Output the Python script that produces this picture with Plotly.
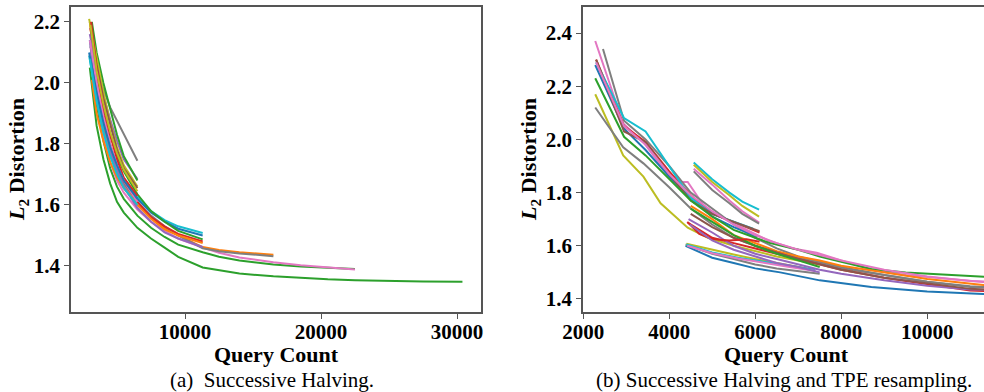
import plotly.graph_objects as go

# ---------------- colours (matplotlib tab10) ----------------
C = {"blue": "#1f77b4", "orange": "#ff7f0e", "green": "#2ca02c", "red": "#d62728",
     "purple": "#9467bd", "brown": "#8c564b", "pink": "#e377c2", "grey": "#7f7f7f",
     "olive": "#bcbd22", "cyan": "#17becf"}

# ---------------- (a) Successive Halving ----------------
grid_a = [3000, 3500, 4000, 4500, 5000, 5500, 6500, 7500, 8500, 9500, 11300,
          12500, 14000, 16500, 18500, 20500, 22500, 25000, 27500, 30400]

sh_colors = ["green", "green", "pink", "orange", "grey", "cyan", "blue", "green", "red",
             "orange", "purple", "grey", "purple", "green", "olive", "brown", "red",
             "pink", "blue", "cyan", "olive"]
sh_start = [3000, 3100, 3050, 3150, 3100, 2950, 3000, 3100, 3050, 3000, 3100,
            3050, 3000, 3150, 2950, 3050, 3100, 3000, 2950, 3000, 3050]
sh_values = [
    [2.05, 1.86, 1.75, 1.67, 1.61, 1.575, 1.525, 1.49, 1.46, 1.43, 1.395, 1.385, 1.375, 1.366, 1.36, 1.356, 1.353, 1.35, 1.349, 1.348],
    [2.10, 1.93, 1.81, 1.72, 1.66, 1.62, 1.565, 1.525, 1.495, 1.47, 1.445, 1.43, 1.418, 1.405, 1.398, 1.393, 1.39],
    [2.12, 1.95, 1.83, 1.74, 1.68, 1.64, 1.585, 1.545, 1.515, 1.49, 1.46, 1.443, 1.428, 1.412, 1.402, 1.394, 1.388],
    [2.01, 1.90, 1.81, 1.74, 1.69, 1.655, 1.60, 1.56, 1.525, 1.50, 1.462, 1.452, 1.445, 1.437],
    [2.15, 1.98, 1.85, 1.77, 1.71, 1.67, 1.61, 1.565, 1.53, 1.50, 1.458, 1.448, 1.441, 1.432],
    [2.09, 1.95, 1.84, 1.77, 1.72, 1.68, 1.625, 1.58, 1.55, 1.53, 1.508],
    [2.14, 1.98, 1.87, 1.79, 1.73, 1.685, 1.62, 1.575, 1.545, 1.522, 1.50],
    [2.19, 2.03, 1.92, 1.83, 1.76, 1.71, 1.635, 1.58, 1.545, 1.515, 1.487],
    [2.18, 2.02, 1.90, 1.80, 1.73, 1.68, 1.61, 1.56, 1.53, 1.505, 1.48],
    [2.20, 2.00, 1.87, 1.77, 1.70, 1.66, 1.60, 1.555, 1.52, 1.50, 1.475],
    [2.17, 2.00, 1.87, 1.78, 1.71, 1.66, 1.59, 1.545, 1.51, 1.49, 1.462],
    [2.12, 2.05, 1.98, 1.92, 1.875, 1.83, 1.745],
    [2.16, 2.05, 1.96, 1.88, 1.81, 1.75, 1.685],
    [2.20, 2.10, 2.00, 1.91, 1.83, 1.76, 1.68],
    [2.21, 2.08, 1.97, 1.87, 1.79, 1.73, 1.66],
    [2.18, 2.06, 1.95, 1.86, 1.78, 1.72, 1.655],
    [2.20, 2.05, 1.93, 1.83, 1.75, 1.69, 1.63],
    [2.14, 2.00, 1.89, 1.80, 1.73, 1.68, 1.61],
    [2.10, 1.97, 1.87, 1.79, 1.73, 1.68, 1.62],
    [2.08, 1.94, 1.84, 1.76, 1.70, 1.655, 1.60],
    [2.19, 2.04, 1.93, 1.84, 1.77, 1.715, 1.645],
]

# ---------------- (b) Successive Halving + TPE resampling ----------------
tpe_lines = [
    # (colour, x values, y values)
    ("pink",   [2280, 2930, 3400, 4100, 4430, 4850, 5300, 5800, 6300, 6880, 7430, 8000, 8700, 9500, 10500, 11300, 12000],
               [2.37, 2.06, 1.99, 1.84, 1.84, 1.74, 1.70, 1.66, 1.62, 1.59, 1.574, 1.545, 1.51, 1.49, 1.475, 1.464, 1.46]),
    ("grey",   [2460, 2950, 3450, 4000, 4500, 5000, 5500, 6000, 6500, 7000, 7500, 8000, 9000, 10000, 11000, 12000],
               [2.34, 2.07, 2.00, 1.90, 1.80, 1.74, 1.68, 1.63, 1.59, 1.56, 1.54, 1.52, 1.49, 1.465, 1.445, 1.438]),
    ("red",    [2300, 2950, 3450, 4000, 4500, 5000, 5500, 6100],
               [2.30, 2.05, 1.99, 1.88, 1.79, 1.72, 1.69, 1.65]),
    ("blue",   [2280, 2950, 3450, 4000, 4500, 5000, 5500, 6050],
               [2.28, 2.04, 1.96, 1.86, 1.78, 1.71, 1.67, 1.634]),
    ("cyan",   [2300, 2950, 3450, 4000, 4500, 5000, 5500, 5950],
               [2.29, 2.08, 2.03, 1.90, 1.78, 1.72, 1.69, 1.664]),
    ("brown",  [2300, 2950, 3450, 4000, 4500, 5000, 5500, 6100],
               [2.30, 2.03, 1.99, 1.87, 1.77, 1.72, 1.69, 1.655]),
    ("green",  [2280, 2950, 3450, 4000, 4500, 5000, 5500, 6000, 6350, 7000, 7500, 8000, 8700, 9500, 10500, 11300, 12000],
               [2.23, 2.01, 1.94, 1.85, 1.77, 1.71, 1.66, 1.63, 1.61, 1.585, 1.56, 1.54, 1.513, 1.50, 1.49, 1.483, 1.478]),
    ("olive",  [2280, 2930, 3400, 3800, 4430, 4900, 5500, 6000, 6500, 7000, 7500],
               [2.17, 1.94, 1.86, 1.76, 1.668, 1.63, 1.60, 1.58, 1.56, 1.545, 1.53]),
    ("grey",   [2280, 2930, 3400, 4000, 4500, 5000, 5500, 6000, 6500, 7000, 7500, 8000, 9000, 10000, 11000, 12000],
               [2.12, 1.97, 1.91, 1.82, 1.74, 1.68, 1.63, 1.60, 1.575, 1.555, 1.535, 1.515, 1.49, 1.465, 1.448, 1.44]),
    ("pink",   [2300, 2950, 3450, 4000, 4500, 5000, 5500, 6000, 6500, 7000, 7500, 8000, 9000, 10000, 11000, 12000],
               [2.29, 2.05, 1.98, 1.87, 1.79, 1.73, 1.68, 1.64, 1.61, 1.585, 1.565, 1.545, 1.51, 1.485, 1.468, 1.462]),
    # resampled at ~4500, stopped at ~6100
    ("cyan",   [4570, 5000, 5400, 5700, 6090], [1.913, 1.85, 1.80, 1.766, 1.736]),
    ("olive",  [4570, 5000, 5400, 5700, 6090], [1.905, 1.84, 1.79, 1.75, 1.71]),
    ("pink",   [4570, 5000, 5400, 5700, 6090], [1.89, 1.83, 1.77, 1.73, 1.687]),
    ("grey",   [4570, 5000, 5400, 5700, 6090], [1.88, 1.81, 1.76, 1.72, 1.683]),
    # resampled at ~4400 with low start
    ("blue",   [4380, 5000, 5500, 6000, 6580, 7500, 8700, 10000, 11300, 12000],
               [1.60, 1.555, 1.535, 1.515, 1.50, 1.47, 1.445, 1.428, 1.419, 1.415]),
    ("grey",   [4380, 5000, 5500, 6000, 6500, 7000, 7500], [1.605, 1.57, 1.55, 1.53, 1.515, 1.505, 1.495]),
    ("olive",  [4400, 5000, 5500, 6000, 6500, 7000, 7200], [1.608, 1.585, 1.567, 1.55, 1.535, 1.52, 1.515]),
    ("cyan",   [4400, 5000, 5600, 6200, 6800, 7400], [1.605, 1.575, 1.555, 1.54, 1.525, 1.51]),
    ("pink",   [4420, 5000, 5600, 6200, 6800, 7400], [1.60, 1.572, 1.552, 1.535, 1.52, 1.505]),
    # resampled at ~4450, continued
    ("red",    [4430, 4700, 5000, 5500, 6000, 6500, 7000, 7500, 8000, 9000, 10000, 11000, 12000],
               [1.687, 1.66, 1.63, 1.61, 1.59, 1.57, 1.55, 1.53, 1.51, 1.48, 1.455, 1.432, 1.426]),
    ("purple", [4450, 5000, 5500, 6000, 6500, 7000, 7500, 8000, 9000, 10000, 11000, 12000],
               [1.70, 1.65, 1.60, 1.57, 1.55, 1.53, 1.51, 1.495, 1.47, 1.45, 1.436, 1.432]),
    ("orange", [4500, 5000, 5500, 6000, 6500, 7000, 7500, 8000, 9000, 10000, 11300, 12000],
               [1.75, 1.70, 1.64, 1.61, 1.58, 1.56, 1.545, 1.525, 1.50, 1.475, 1.453, 1.447]),
    ("brown",  [4500, 5000, 5500, 6000, 6500, 7000, 7500, 8000, 9000, 10000, 11000, 12000],
               [1.72, 1.67, 1.63, 1.60, 1.575, 1.55, 1.53, 1.51, 1.48, 1.458, 1.438, 1.432]),
    ("green",  [4500, 5000, 5500, 6000, 6500, 7000, 7500], [1.74, 1.69, 1.64, 1.60, 1.57, 1.545, 1.52]),
    ("red",    [4420, 4700, 5000, 5400, 5800, 6100], [1.69, 1.645, 1.625, 1.62, 1.625, 1.615]),
    ("purple", [4480, 5000, 5500, 6000, 6500, 7000, 7500], [1.68, 1.62, 1.585, 1.56, 1.535, 1.52, 1.50]),
]

y_ticks_a = [1.4, 1.6, 1.8, 2.0, 2.2]
y_labels_a = ["1.4", "1.6", "1.8", "2.0", "2.2"]
x_ticks_a = [10000, 20000, 30000]
x_labels_a = ["10000", "20000", "30000"]
y_ticks_b = [1.4, 1.6, 1.8, 2.0, 2.2, 2.4]
y_labels_b = ["1.4", "1.6", "1.8", "2.0", "2.2", "2.4"]
x_ticks_b = [2000, 4000, 6000, 8000, 10000]
x_labels_b = ["2000", "4000", "6000", "8000", "10000"]

SERIF = "Liberation Serif"
fig = go.Figure()

for col, st, vals in zip(sh_colors, sh_start, sh_values):
    xs = [st] + grid_a[1:len(vals)]
    fig.add_trace(go.Scatter(x=xs, y=vals, mode="lines", line=dict(color=C[col], width=2),
                             xaxis="x", yaxis="y", showlegend=False, hoverinfo="skip"))

for col, xs, ys in tpe_lines:
    fig.add_trace(go.Scatter(x=xs, y=ys, mode="lines", line=dict(color=C[col], width=2),
                             xaxis="x2", yaxis="y2", showlegend=False, hoverinfo="skip"))

W, H = 984, 392
def fx(px): return px / W
def fy(py): return 1 - py / H

axis_common = dict(showgrid=False, zeroline=False, showline=True, linecolor="#555555", linewidth=1.5,
                   ticks="outside", ticklen=5, tickwidth=1.3, tickcolor="#555555",
                   tickfont=dict(family=SERIF, size=21, color="black", weight="bold"),
                   automargin=False)

fig.update_layout(
    width=W, height=H, margin=dict(l=0, r=0, t=0, b=0),
    paper_bgcolor="white", plot_bgcolor="white",
    xaxis=dict(domain=[fx(71), fx(481)], range=[1618, 31765], tickvals=x_ticks_a, ticktext=x_labels_a,
               mirror=True, anchor="y", ticklabelstandoff=-5, **axis_common),
    yaxis=dict(domain=[fy(312), fy(7)], range=[1.249, 2.249], tickvals=y_ticks_a, ticktext=y_labels_a,
               mirror=True, anchor="x", **axis_common),
    xaxis2=dict(domain=[fx(583), 1.0], range=[1995, 11321], tickvals=x_ticks_b, ticktext=x_labels_b,
                mirror=True, anchor="y2", ticklabelstandoff=-5, **axis_common),
    yaxis2=dict(domain=[fy(312), fy(7)], range=[1.351, 2.498], tickvals=y_ticks_b, ticktext=y_labels_b,
                mirror=False, anchor="x2", **axis_common),
)

ann_font_b = dict(family=SERIF, size=22, color="black", weight="bold")
ann_font = dict(family=SERIF, size=21, color="black")
anns = [
    dict(x=fx(276), y=fy(354), text="Query Count", font=ann_font_b),
    dict(x=fx(786), y=fy(354), text="Query Count", font=ann_font_b),
    dict(x=fx(18), y=fy(160), text="<i>L</i><sub>2</sub> Distortion", font=ann_font_b, textangle=-90),
    dict(x=fx(530), y=fy(160), text="<i>L</i><sub>2</sub> Distortion", font=ann_font_b, textangle=-90),
    dict(x=fx(272), y=fy(380), text="(a)  Successive Halving.", font=ann_font),
    dict(x=fx(974), y=fy(380), text="(b) Successive Halving and TPE resampling.", font=ann_font, xanchor="right"),
]
for a in anns:
    a.setdefault("xanchor", "center")
    fig.add_annotation(xref="paper", yref="paper", showarrow=False, yanchor="middle", **a)

fig.write_html("out.html", config={"displayModeBar": False},
               post_script="document.body.style.margin='0';document.body.style.overflow='hidden';")
